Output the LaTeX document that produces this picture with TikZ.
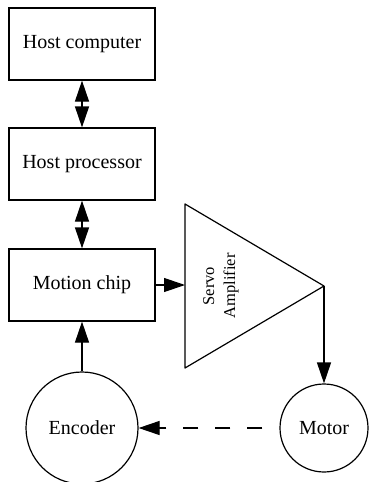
\documentclass[tikz,border=0pt]{standalone}
\usepackage{fontspec}
\setmainfont{Liberation Serif}
\usetikzlibrary{arrows.meta}
\tikzset{
  blk/.style={draw,line width=1.2pt,minimum width=146pt,minimum height=72pt,inner sep=0pt,font=\fontsize{20}{24}\selectfont},
  rnd/.style={draw,circle,line width=1.2pt,inner sep=0pt,font=\fontsize{20}{24}\selectfont},
  arr/.style={line width=1.2pt,-{Triangle[length=21pt,width=14pt]}},
  darr/.style={line width=1.2pt,{Triangle[length=21pt,width=14pt]}-{Triangle[length=21pt,width=14pt]}}
}
\begin{document}
\begin{tikzpicture}[x=1pt,y=-1pt]
	\useasboundingbox (0,0) rectangle (368,482);
		\node[blk] (host) at (82,44) {Host computer};
		\node[blk] (proc) at (82,164) {Host processor};
		\node[blk] (chip) at (82,285) {Motion chip};
		\node[rnd,minimum size=112pt] (enc) at (82,428) {Encoder};
		\node[rnd,minimum size=88pt] (mot) at (324,428) {Motor};
		% amplifier
		\draw[line width=1.2pt,line join=round] (185,204) -- (324,286) -- (185,368) -- cycle;
		\coordinate (ampin) at (185,285);
		\coordinate (ampout) at (324,286);
		\node[rotate=90,align=center,font=\fontsize{16.5}{21}\selectfont] (amptxt) at (221,286) {Servo\\Amplifier};
		\draw[darr] (host) -- (proc);
		\draw[darr] (proc) -- (chip);
		\draw[arr] (chip) -- (ampin);
		\draw[arr] (ampout) -- (mot);
		\draw[arr] (enc) -- (chip);
		\draw[arr,dash pattern=on 15pt off 17pt,dash phase=15pt] (mot) -- (enc);
	\end{tikzpicture}
\end{document}
